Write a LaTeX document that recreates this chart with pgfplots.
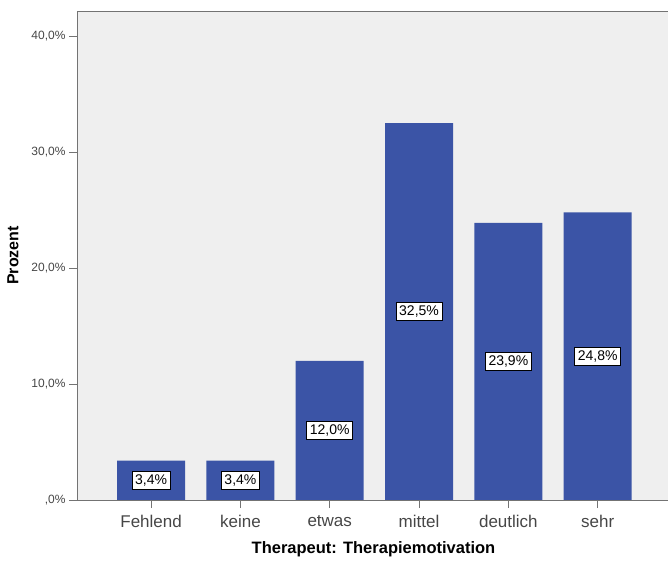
\documentclass[border=0pt]{standalone}
\usepackage{fontspec}
\setmainfont{Liberation Sans}
\usepackage{pgfplots}
\pgfplotsset{compat=1.18}
\usepackage{pgfplotstable}
\definecolor{barblue}{RGB}{59,84,166}
\definecolor{bggray}{RGB}{239,239,239}
\definecolor{axgray}{RGB}{115,115,115}
\definecolor{txtgray}{RGB}{70,70,70}
\pgfplotstableread{
x y
0 3.4
1 3.4
2 12.0
3 32.5
4 23.9
5 24.8
}\datatable
\begin{document}
\begin{tikzpicture}
\useasboundingbox (0,0) rectangle (668pt,562pt);
\begin{axis}[
  at={(77pt,62pt)}, anchor=south west,
  scale only axis, width=593pt, height=489pt,
  xmin=-0.83, xmax=5.81, ymin=0, ymax=42.16,
  axis on top,
  /pgf/number format/assume math mode=true,
  axis background/.style={fill=bggray},
  axis line style={draw=axgray, line width=0.9pt},
  xtick={0,1,2,3,4,5},
  xticklabels={Fehlend,keine,etwas,mittel,deutlich,sehr},
  ytick={0,10,20,30,40},
  yticklabels={{,0\%},{10,0\%},{20,0\%},{30,0\%},{40,0\%}},
  xtick pos=lower, ytick pos=lower,
  xtick align=outside, ytick align=outside, major tick length=8pt,
  major tick style={draw=axgray, line width=1pt},
  xticklabel style={font=\fontsize{17}{17}\selectfont, text=txtgray, yshift=-4pt},
  yticklabel style={font=\fontsize{12}{12}\selectfont, text=txtgray},
  xlabel={Therapeut: Therapiemotivation},
  ylabel={Prozent},
  every axis x label/.style={at={(axis description cs:0.5,0)}, anchor=center, yshift=-49pt, font=\bfseries\fontsize{16.5}{16.5}\selectfont},
  every axis y label/.style={at={(axis description cs:0,0.5)}, anchor=center, rotate=90, yshift=64pt, font=\bfseries\fontsize{16}{16}\selectfont},
]
\addplot[ybar, bar width=68pt, bar shift=0pt, fill=barblue, draw=none] table[x=x, y=y]{\datatable};
\addplot[draw=none, mark=none, point meta=explicit,
  nodes near coords={\pgfmathprintnumber[fixed,fixed zerofill,precision=1,use comma]{\pgfplotspointmeta}\%},
  every node near coord/.style={anchor=center, fill=white, draw=black, line width=0.8pt, inner xsep=3pt, inner ysep=3pt, text=black, font=\fontsize{14}{14}\selectfont}]
  table[x=x, y expr=\thisrow{y}/2, meta=y]{\datatable};
\end{axis}
\end{tikzpicture}
\end{document}
